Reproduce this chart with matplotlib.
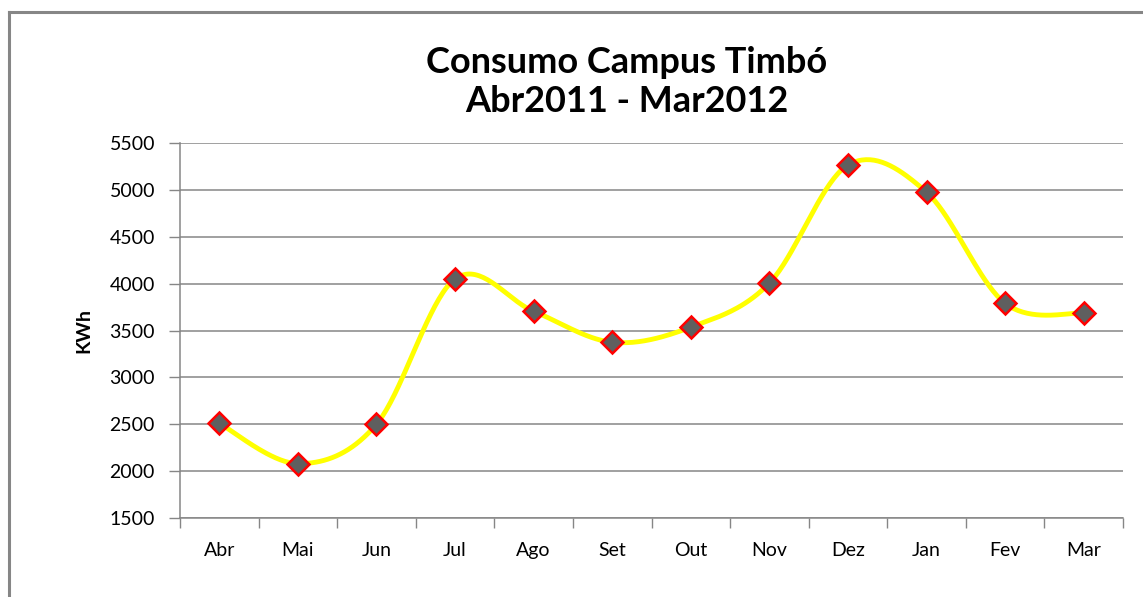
import numpy as np
import matplotlib.pyplot as plt
from matplotlib.lines import Line2D

meses = ["Abr", "Mai", "Jun", "Jul", "Ago", "Set", "Out", "Nov", "Dez", "Jan", "Fev", "Mar"]
consumo = [2510, 2080, 2500, 4050, 3705, 3375, 3535, 4005, 5265, 4975, 3790, 3685]
y_ticks = [1500, 2000, 2500, 3000, 3500, 4000, 4500, 5000, 5500]

# curva suavizada tipo Excel (Catmull-Rom em Bezier)
def suavizar(x, y, n=40):
    x = np.asarray(x, float); y = np.asarray(y, float)
    px = np.concatenate([[x[0]], x, [x[-1]]])
    py = np.concatenate([[y[0]], y, [y[-1]]])
    xs, ys = [], []
    t = np.linspace(0, 1, n)
    for i in range(1, len(px) - 2):
        p0 = np.array([px[i], py[i]]); p3 = np.array([px[i + 1], py[i + 1]])
        p1 = p0 + (np.array([px[i + 1], py[i + 1]]) - np.array([px[i - 1], py[i - 1]])) / 6
        p2 = p3 - (np.array([px[i + 2], py[i + 2]]) - np.array([px[i], py[i]])) / 6
        b = ((1 - t) ** 3)[:, None] * p0 + (3 * (1 - t) ** 2 * t)[:, None] * p1 \
            + (3 * (1 - t) * t ** 2)[:, None] * p2 + (t ** 3)[:, None] * p3
        xs.extend(b[:, 0]); ys.extend(b[:, 1])
    return xs, ys

plt.rcParams['font.family'] = ['Lato', 'DejaVu Sans']

fig = plt.figure(figsize=(11.43, 5.97), dpi=100)
ax = fig.add_axes([180 / 1143, 1 - 518 / 597, 943 / 1143, 375 / 597])

x = np.arange(len(meses))
sx, sy = suavizar(x, consumo)
ax.plot(sx, sy, color="#ffff00", lw=3.5, zorder=3)
ax.plot(x, consumo, ls="none", marker="D", markersize=11.5, markerfacecolor="#5f5f5f",
        markeredgecolor="#ff0000", markeredgewidth=1.8, zorder=4)

ax.set_xlim(-0.5, len(meses) - 0.5)
ax.set_ylim(1500, 5500)
ax.set_yticks(y_ticks)
ax.set_xticks(x)
ax.set_xticklabels(meses)
ax.set_xticks(np.arange(-0.5, len(meses), 1), minor=True)
ax.tick_params(axis="x", which="major", length=0, pad=17, labelsize=14)
ax.tick_params(axis="x", which="minor", length=7, width=1, color="#868686", direction="out")
ax.tick_params(axis="y", length=8, width=1, color="#868686", labelsize=14, pad=10)
ax.yaxis.grid(True, color="#868686", lw=1.1)
ax.set_axisbelow(True)
for s in ["top", "right"]:
    ax.spines[s].set_visible(False)
for s in ["left", "bottom"]:
    ax.spines[s].set_color("#868686")
    ax.spines[s].set_linewidth(1.1)
ax.set_ylabel("KWh", fontsize=14, fontweight="bold", labelpad=12)

fig.text(627 / 1143, 1 - 82 / 597, "Consumo Campus Timbó\nAbr2011 - Mar2012", ha="center",
         va="center", fontsize=26, fontweight="bold", linespacing=1.25)

# moldura (só esquerda e topo visíveis)
fig.add_artist(Line2D([9 / 1143, 9 / 1143], [0, 1 - 12 / 597], transform=fig.transFigure,
                      color="#868686", lw=2.2))
fig.add_artist(Line2D([9 / 1143, 1], [1 - 12 / 597, 1 - 12 / 597], transform=fig.transFigure,
                      color="#868686", lw=2.2))

fig.savefig("out.png", dpi=100)
